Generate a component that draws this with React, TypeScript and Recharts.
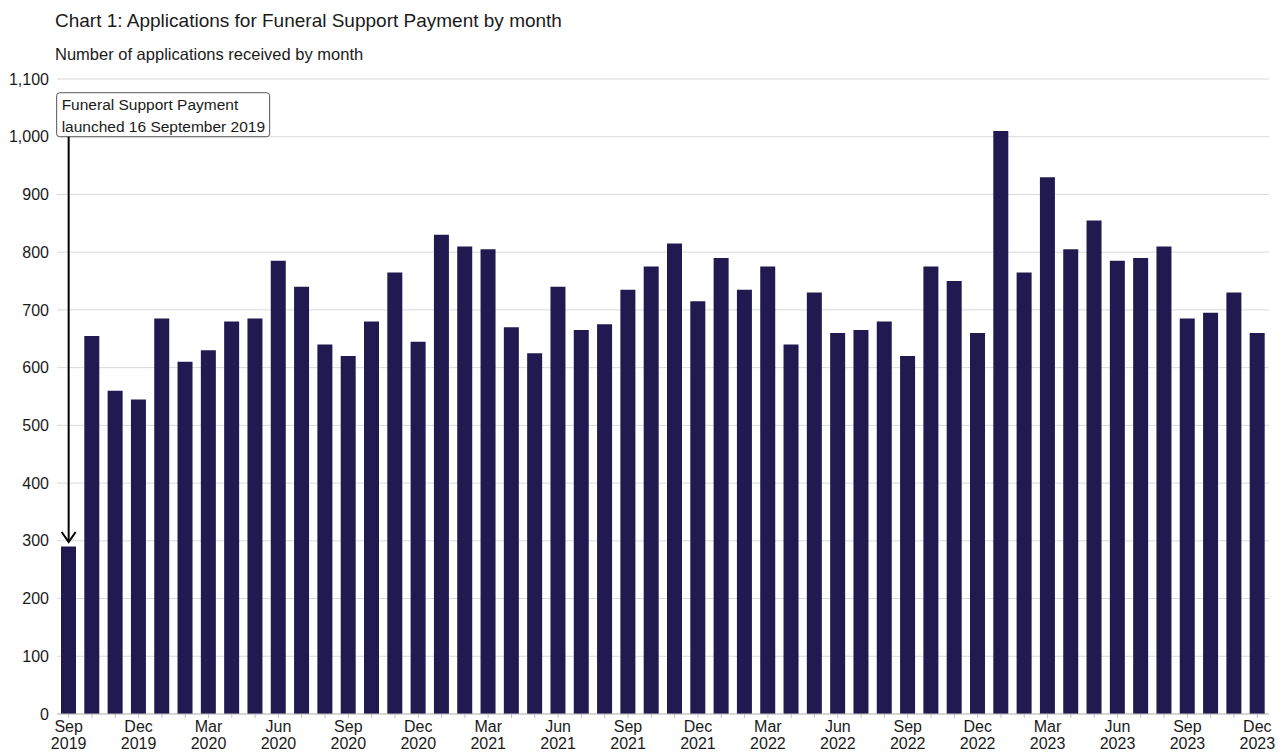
import React from "react";
import { BarChart, Bar, XAxis, YAxis, CartesianGrid, ReferenceLine } from "recharts";

const months = [
  "Sep 2019", "Oct 2019", "Nov 2019", "Dec 2019",
  "Jan 2020", "Feb 2020", "Mar 2020", "Apr 2020", "May 2020", "Jun 2020", "Jul 2020", "Aug 2020", "Sep 2020", "Oct 2020", "Nov 2020", "Dec 2020",
  "Jan 2021", "Feb 2021", "Mar 2021", "Apr 2021", "May 2021", "Jun 2021", "Jul 2021", "Aug 2021", "Sep 2021", "Oct 2021", "Nov 2021", "Dec 2021",
  "Jan 2022", "Feb 2022", "Mar 2022", "Apr 2022", "May 2022", "Jun 2022", "Jul 2022", "Aug 2022", "Sep 2022", "Oct 2022", "Nov 2022", "Dec 2022",
  "Jan 2023", "Feb 2023", "Mar 2023", "Apr 2023", "May 2023", "Jun 2023", "Jul 2023", "Aug 2023", "Sep 2023", "Oct 2023", "Nov 2023", "Dec 2023",
];

const applications = [
  290, 655, 560, 545,
  685, 610, 630, 680, 685, 785, 740, 640, 620, 680, 765, 645,
  830, 810, 805, 670, 625, 740, 665, 675, 735, 775, 815, 715,
  790, 735, 775, 640, 730, 660, 665, 680, 620, 775, 750, 660,
  1010, 765, 930, 805, 855, 785, 790, 810, 685, 695, 730, 660,
];

const yTicks = [0, 100, 200, 300, 400, 500, 600, 700, 800, 900, 1000, 1100];

const title = "Chart 1: Applications for Funeral Support Payment by month";
const subtitle = "Number of applications received by month";
const annotationLines = ["Funeral Support Payment", "launched 16 September 2019"];
const annotationStart = 1000;
const annotationEnd = 298;

const data = months.map((m, i) => ({ month: m, value: applications[i] }));

const FONT = '"Liberation Sans", Arial, sans-serif';
const BAR = "#211a50";

const XTick = (props: any) => {
  const { x, y, payload, index } = props;
  const i = typeof index === "number" ? index : payload.index;
  if (i % 3 !== 0) return null;
  const [mon, yr] = String(payload.value).split(" ");
  return (
    <g>
      <text x={x} y={y + 12} textAnchor="middle" fontSize={16} fill="#1a1a1a" fontFamily={FONT}>{mon}</text>
      <text x={x} y={y + 29} textAnchor="middle" fontSize={16} fill="#1a1a1a" fontFamily={FONT}>{yr}</text>
    </g>
  );
};

const ArrowShape = (props: any) => {
  const { x1, y1, x2, y2 } = props;
  const bx = x1 - 12;
  const by = y1 - 44;
  return (
    <g>
      <rect x={bx} y={by} width={213} height={44} rx={3} ry={3} fill="#ffffff" stroke="#555555" strokeWidth={1} />
      <text x={bx + 5} y={by + 17} fontSize={15.5} fill="#1a1a1a" fontFamily={FONT}>{annotationLines[0]}</text>
      <text x={bx + 5} y={by + 39} fontSize={15.5} fill="#1a1a1a" fontFamily={FONT}>{annotationLines[1]}</text>
      <line x1={x1} y1={y1} x2={x2} y2={y2} stroke="#000000" strokeWidth={2} />
      <path d={`M${x2 - 7},${y2 - 10} L${x2},${y2} L${x2 + 7},${y2 - 10}`} fill="none" stroke="#000000" strokeWidth={2} />
    </g>
  );
};

export default function App() {
  return (
    <div style={{ position: "absolute", left: 0, top: 0, width: 1285, height: 752, background: "#ffffff", fontFamily: FONT }}>
      <svg width={1285} height={70} style={{ position: "absolute", left: 0, top: 0 }}>
        <text x={55} y={27} fontSize={19} fill="#1a1a1a" fontFamily={FONT}>{title}</text>
        <text x={55} y={60} fontSize={16.5} fill="#1a1a1a" fontFamily={FONT}>{subtitle}</text>
      </svg>
      <div style={{ position: "absolute", left: 0, top: 0 }}>
        <BarChart width={1285} height={752} data={data} margin={{ top: 79, right: 16, bottom: 0, left: 0 }} barSize={15}>
          <CartesianGrid vertical={false} stroke="#d9d9d9" />
          <XAxis
            dataKey="month"
            interval={0}
            height={38}
            tick={<XTick />}
            tickSize={4}
            tickLine={{ stroke: "#bfbfbf" }}
            axisLine={{ stroke: "#bfbfbf" }}
          />
          <YAxis
            domain={[0, 1100]}
            ticks={yTicks}
            width={57}
            axisLine={false}
            tickLine={false}
            tickMargin={2}
            tickFormatter={(v: number) => v.toLocaleString("en-GB")}
            tick={{ fontSize: 16, fill: "#1a1a1a", fontFamily: FONT }}
          />
          <Bar dataKey="value" fill={BAR} isAnimationActive={false} />
          <ReferenceLine
            segment={[{ x: months[0], y: annotationStart }, { x: months[0], y: annotationEnd }]}
            shape={<ArrowShape />}
            ifOverflow="extendDomain"
          />
        </BarChart>
      </div>
    </div>
  );
}
